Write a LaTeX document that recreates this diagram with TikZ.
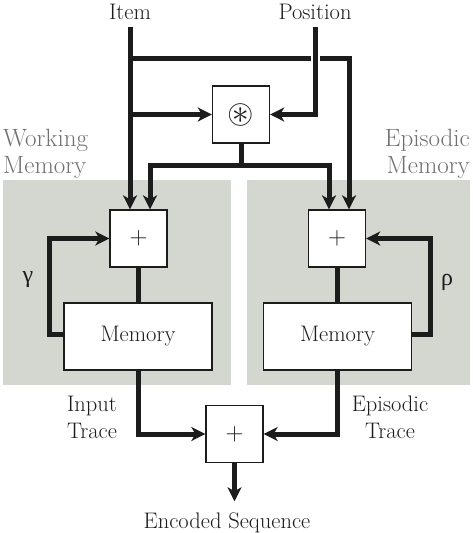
\documentclass[tikz,border=0pt]{standalone}
\usepackage{amssymb}
\usepackage{fontspec}
\usetikzlibrary{arrows.meta}
\newfontfamily\greekfont{Liberation Serif}
\definecolor{panel}{RGB}{212,215,208}
\definecolor{ink}{RGB}{28,28,28}
\definecolor{lbl}{RGB}{112,112,112}

\begin{document}
\begin{tikzpicture}[x=1pt,y=-1pt,
  txt/.style={font=\fontsize{22.5}{27}\selectfont, text=ink, inner sep=0pt},
  head/.style={txt, outer ysep=8pt},
  big/.style={font=\fontsize{25}{30}\selectfont, text=lbl, inner sep=0pt},
  opbox/.style={draw=ink, line width=1.3pt, fill=white, minimum size=57pt,
    inner sep=0pt, text=ink, font=\fontsize{28}{30}\selectfont},
  membox/.style={draw=ink, line width=1.3pt, fill=white, minimum width=148pt,
    minimum height=67pt, inner sep=0pt, text=ink, font=\fontsize{22.5}{27}\selectfont},
  wire/.style={draw=ink, line width=5pt},
  feed/.style={wire, -{Stealth[length=14pt,width=14pt,inset=4pt]}},
]
\useasboundingbox (0,0) rectangle (473,533);

% shaded memory panels
\fill[panel] (3,180) rectangle (231,385);
\fill[panel] (247,180) rectangle (470,385);

% panel titles
\node[big, anchor=base west] (wm1) at (3,146) {Working};
\node[big, anchor=base west] (wm2) at (3,173) {Memory};
\node[big, anchor=base east] (em1) at (470,146) {Episodic};
\node[big, anchor=base east] (em2) at (470,173) {Memory};

% inputs
\node[head, anchor=base] (item) at (130,19) {Item};
\node[head, anchor=base] (pos) at (315,19) {Position};

% operators and memories
\node[opbox] (star) at (241,114.5) {\fontsize{34}{34}\selectfont$\circledast$};
\node[opbox] (plusL) at (138.5,238.5) {$+$};
\node[opbox] (plusR) at (337,238.5) {$+$};
\node[membox] (memL) at (138,336.5) {Memory};
\node[membox] (memR) at (337.5,336.5) {Memory};
\node[opbox] (plusB) at (234.5,434) {$+$};

% other labels
\node[txt, anchor=base] (it1) at (92,411) {Input};
\node[txt, anchor=base] (it2) at (92,438) {Trace};
\node[txt, anchor=base] (et1) at (390,411) {Episodic};
\node[txt, anchor=base] (et2) at (390,438) {Trace};
\node[txt, font=\greekfont\fontsize{24}{28}\selectfont] (gam) at (28,280) {γ};
\node[txt, font=\greekfont\fontsize{24}{28}\selectfont] (rho) at (447,282) {ρ};
\node[txt, anchor=base, outer ysep=11pt] (enc) at (227,528) {Encoded Sequence};

% routing points
\coordinate (split) at (130,58);
\coordinate (cross) at (315,58);
\coordinate (epi) at (349,58);
\coordinate (ibr) at (130,114.5);
\coordinate (mix) at (241,165);
\coordinate (mixL) at (150,165);
\coordinate (mixR) at (329,165);
\coordinate (gl) at (49,334);
\coordinate (gr) at (430,334);

% item and position feeds
\draw[feed] (item.south) -- (item.south |- plusL.north);
\draw[wire] (split) -- ([xshift=-4.5pt]cross);
\draw[feed] ([xshift=4.5pt]cross) -- (epi) -- (epi |- plusR.north);
\draw[feed] (ibr) -- (star.west);
\draw[feed] (pos.south) |- (star.east);

% convolution output to both sums
\draw[wire] (star.south) -- (mix);
\draw[feed] (mix) -- (mixL) -- (mixL |- plusL.north);
\draw[feed] (mix) -- (mixR) -- (mixR |- plusR.north);

% sums into memories
\draw[wire] (plusL.south) -- (plusL.south |- memL.north);
\draw[wire] (plusR.south) -- (plusR.south |- memR.north);

% decay loops
\draw[feed] (memL.west |- gl) -- (gl) |- (plusL.west);
\draw[feed] (memR.east |- gr) -- (gr) |- (plusR.east);

% traces to the final sum
\draw[feed] (memL.south) |- (plusB.west);
\draw[feed] (memR.south) |- (plusB.east);
\draw[feed] (plusB.south) -- (plusB.south |- enc.north);
\end{tikzpicture}
\end{document}
